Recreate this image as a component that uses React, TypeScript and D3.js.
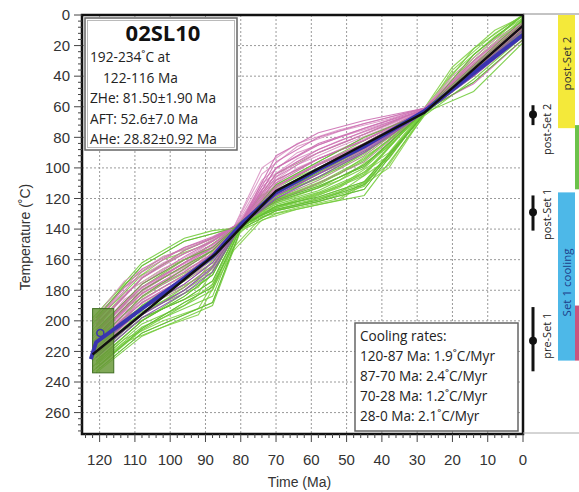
import React from "react";
import * as d3 from "d3";

const timeNodes = [121, 108, 96, 88, 80, 70, 58, 45, 28, 14, 0];
const timeNodes2 = [122, 113, 102, 92, 82, 74, 64, 52, 38, 28, 20, 8, 0];

const greenPaths = [
  [233, 208, 196, 188, 140, 128, 122, 114, 64, 38, 10],
  [229, 204, 192, 184, 138, 126, 120, 110, 63, 36, 8],
  [231, 206, 190, 176, 137, 125, 117, 104, 62, 35, 6],
  [226, 200, 184, 170, 136, 122, 113, 98, 63, 34, 5],
  [222, 196, 178, 164, 137, 121, 110, 94, 64, 36, 7],
  [218, 190, 172, 158, 136, 119, 106, 90, 63, 35, 4],
  [214, 184, 166, 154, 135, 117, 103, 87, 62, 33, 3],
  [208, 178, 160, 150, 136, 115, 100, 84, 63, 30, 2],
  [203, 172, 154, 146, 137, 113, 98, 82, 62, 28, 0],
  [198, 164, 148, 143, 138, 111, 96, 80, 64, 26, 0],
  [196, 162, 146, 141, 139, 119, 104, 88, 63, 40, 12],
  [234, 210, 198, 190, 141, 130, 124, 118, 66, 42, 14],
  [224, 198, 186, 174, 137, 127, 121, 111, 65, 37, 9],
  [212, 186, 170, 158, 135, 124, 116, 103, 62, 34, 6],
  [220, 194, 180, 168, 137, 126, 118, 105, 61, 30, 3],
  [206, 176, 160, 152, 136, 121, 112, 99, 63, 44, 16],
  [227, 200, 182, 170, 136, 120, 111, 95, 62, 22, 0],
  [217, 190, 174, 162, 138, 123, 115, 100, 64, 50, 18],
  [231, 205, 188, 178, 139, 125, 119, 109, 65, 36, 7],
  [200, 170, 156, 148, 137, 118, 107, 91, 61, 33, 4],
  [228, 202, 190, 180, 138, 128, 122, 112, 63, 32, 5],
  [210, 180, 164, 154, 136, 116, 101, 86, 62, 38, 11],
];

const greenPaths2 = [
  [230, 212, 200, 192, 152, 132, 126, 120, 98, 64, 48, 22, 10],
  [226, 206, 192, 182, 146, 130, 124, 116, 94, 63, 44, 20, 8],
  [220, 198, 184, 172, 143, 128, 121, 112, 90, 62, 42, 18, 6],
  [214, 192, 176, 164, 141, 126, 118, 108, 86, 63, 45, 22, 9],
  [206, 182, 166, 156, 140, 124, 115, 104, 82, 62, 40, 16, 4],
  [198, 176, 158, 150, 139, 122, 112, 100, 80, 61, 38, 14, 2],
  [233, 214, 204, 196, 154, 134, 127, 121, 100, 65, 50, 26, 12],
  [224, 202, 188, 178, 144, 129, 122, 113, 92, 64, 36, 12, 0],
  [210, 188, 172, 160, 140, 120, 110, 98, 80, 62, 46, 24, 14],
  [202, 178, 160, 152, 140, 118, 106, 94, 78, 61, 34, 10, 1],
];

const pinkPaths = [
  [212, 180, 162, 150, 136, 92, 77, 69, 61, 34, 7],
  [208, 176, 158, 148, 135, 104, 88, 76, 62, 35, 8],
  [216, 186, 170, 156, 137, 110, 94, 82, 62, 36, 9],
  [204, 172, 154, 146, 136, 112, 98, 86, 63, 37, 10],
  [212, 182, 166, 154, 137, 116, 102, 88, 62, 34, 8],
  [200, 168, 152, 145, 136, 106, 90, 78, 61, 32, 6],
  [216, 188, 172, 158, 138, 118, 104, 86, 63, 38, 12],
  [206, 176, 160, 150, 137, 112, 97, 84, 62, 40, 14],
  [198, 166, 152, 146, 137, 100, 85, 74, 62, 35, 9],
  [220, 192, 176, 162, 138, 114, 102, 88, 64, 36, 10],
  [210, 180, 164, 152, 136, 108, 94, 82, 62, 45, 16],
  [202, 172, 156, 148, 136, 96, 80, 71, 61, 30, 5],
  [214, 184, 168, 156, 137, 118, 104, 90, 63, 37, 11],
  [208, 178, 162, 152, 136, 100, 84, 74, 61, 33, 7],
];

const pinkPaths2 = [
  [214, 188, 172, 160, 140, 108, 90, 80, 70, 62, 44, 20, 8],
  [208, 182, 166, 154, 139, 104, 86, 76, 68, 61, 42, 18, 6],
  [218, 194, 178, 166, 141, 112, 96, 84, 72, 62, 45, 22, 10],
  [204, 178, 162, 152, 139, 116, 100, 88, 74, 63, 46, 23, 11],
  [212, 186, 170, 158, 140, 120, 104, 92, 78, 62, 43, 19, 7],
  [220, 196, 180, 168, 142, 110, 94, 82, 71, 63, 47, 25, 12],
  [200, 174, 158, 150, 139, 100, 84, 75, 67, 61, 40, 16, 5],
  [216, 190, 174, 162, 140, 114, 98, 86, 73, 62, 44, 21, 9],
];

const brownPaths = [
  [214, 188, 174, 160, 137, 120, 108, 92, 63, 36, 9],
  [210, 182, 168, 156, 136, 112, 98, 84, 62, 35, 8],
  [206, 178, 162, 152, 136, 104, 90, 78, 62, 34, 7],
  [218, 192, 178, 164, 137, 122, 110, 96, 63, 38, 11],
  [222, 196, 180, 166, 138, 108, 94, 82, 62, 36, 10],
];

const purplePaths = [
  [222, 196, 180, 165, 137, 118, 104, 89, 63, 37, 10],
  [218, 192, 176, 162, 136, 116, 100, 86, 62, 38, 12],
  [224, 198, 182, 168, 138, 120, 106, 90, 64, 40, 14],
];

const meanTimes = [122.5, 121, 115, 108, 96, 88, 80, 70, 58, 45, 28, 14, 0];
const meanTemps = [225, 214, 204, 192, 172, 158, 137, 116, 101, 86, 63, 38, 13];

const bestTimes = [122, 87, 70, 28, 0];
const bestTemps = [222, 156, 115, 64, 7];

const constraintBox = { t0: 122, t1: 116, T0: 192, T1: 234 };

const xTicks = [120, 110, 100, 90, 80, 70, 60, 50, 40, 30, 20, 10, 0];
const yTicks = [0, 20, 40, 60, 80, 100, 120, 140, 160, 180, 200, 220, 240, 260];

const infoTitle = "02SL10";
const infoLines = ["192-234˚C at", "122-116 Ma", "ZHe: 81.50±1.90 Ma", "AFT: 52.6±7.0 Ma", "AHe: 28.82±0.92 Ma"];
const coolingLines = [
  "Cooling rates:",
  "120-87 Ma: 1.9˚C/Myr",
  "87-70 Ma: 2.4˚C/Myr",
  "70-28 Ma: 1.2˚C/Myr",
  "28-0 Ma: 2.1˚C/Myr",
];

const markerNames = ["post-Set 2", "post-Set 1", "pre-Set 1"];
const markerMid = [65, 129, 213];
const markerLo = [59, 118, 191];
const markerHi = [72, 141, 233];

const barNames = ["post-Set 2", "", "Set 1 cooling", ""];
const barLo = [0, 72, 116, 190];
const barHi = [74, 114, 226, 226];
const barColors = ["#f4e93a", "#6cc24a", "#4db8e8", "#c9557e"];

export default function App() {
  const W = 579, H = 492;
  const x = d3.scaleLinear().domain([125, 0]).range([82, 523]);
  const y = d3.scaleLinear().domain([0, 274]).range([15, 434]);
  const line = d3.line<[number, number]>().x((d) => x(d[0])).y((d) => y(d[1]));
  const pts = (nodes: number[], temps: number[]) => nodes.map((t, i) => [t, temps[i]] as [number, number]);

  const left = x(125), right = x(0), top = y(0), bottom = y(274);
  const minorY = d3.range(0, 275, 4).filter((v) => v % 20 !== 0);
  const minorX = d3.range(0, 126, 2).filter((v) => v % 10 !== 0);
  const tickFont = "'Liberation Sans', Arial, sans-serif";
  const annFont = "'Open Sans', sans-serif";

  const drawGroup = (nodes: number[], paths: number[][], color: string, key: string, w = 1.1, op = 0.9) =>
    paths.map((p, i) => (
      <path key={key + i} d={line(pts(nodes, p)) || ""} fill="none" stroke={color} strokeWidth={w} opacity={op} />
    ));

  return (
    <svg width={W} height={H} style={{ position: "absolute", left: 0, top: 0, background: "#fff" }}>
      {xTicks.map((t) => (
        <line key={"gx" + t} x1={x(t)} x2={x(t)} y1={top} y2={bottom} stroke="#9a9a9a" strokeWidth={1} strokeDasharray="2,2" />
      ))}
      {yTicks.map((t) => (
        <line key={"gy" + t} x1={left} x2={right} y1={y(t)} y2={y(t)} stroke="#9a9a9a" strokeWidth={1} strokeDasharray="2,2" />
      ))}

      {drawGroup(timeNodes2, greenPaths2, "#86d24c", "g2")}
      {drawGroup(timeNodes, greenPaths, "#74cc3e", "g1")}
      {drawGroup(timeNodes, brownPaths, "#a48c7c", "b")}
      {drawGroup(timeNodes2, pinkPaths2, "#dc98c6", "p2")}
      {drawGroup(timeNodes, pinkPaths, "#cc70b2", "p1")}
      {drawGroup(timeNodes, greenPaths.filter((_, i) => i % 3 === 0), "#5fb832", "g3", 1, 0.8)}
      {drawGroup(timeNodes, purplePaths, "#8a4fb0", "u")}

      <rect
        x={x(constraintBox.t0)}
        y={y(constraintBox.T0)}
        width={x(constraintBox.t1) - x(constraintBox.t0)}
        height={y(constraintBox.T1) - y(constraintBox.T0)}
        fill="#6a9a3a"
        fillOpacity={0.85}
        stroke="#3f6e22"
        strokeWidth={1}
      />

      <path d={line(pts(meanTimes, meanTemps)) || ""} fill="none" stroke="#3a34b0" strokeWidth={4} strokeLinejoin="round" />
      <path d={line(pts(bestTimes, bestTemps)) || ""} fill="none" stroke="#111" strokeWidth={2.4} />
      <circle cx={x(119.8)} cy={y(208)} r={3.5} fill="none" stroke="#3a34b0" strokeWidth={1.5} />

      <rect x={left} y={top} width={right - left} height={bottom - top} fill="none" stroke="#111" strokeWidth={2.5} />
      <line x1={right} x2={W} y1={top - 1} y2={top - 1} stroke="#888" strokeWidth={1} />
      <line x1={right} x2={W} y1={bottom - 1} y2={bottom - 1} stroke="#aaa" strokeWidth={1} />

      {minorY.map((t) => (
        <line key={"my" + t} x1={left - 4} x2={left} y1={y(t)} y2={y(t)} stroke="#444" strokeWidth={1} />
      ))}
      {yTicks.map((t) => (
        <g key={"yt" + t}>
          <line x1={left - 8} x2={left} y1={y(t)} y2={y(t)} stroke="#444" strokeWidth={1} />
          <text x={left - 12} y={y(t)} dy="0.35em" textAnchor="end" fontFamily={tickFont} fontSize={15} fill="#333">
            {t}
          </text>
        </g>
      ))}
      {minorX.map((t) => (
        <line key={"mx" + t} x1={x(t)} x2={x(t)} y1={bottom} y2={bottom + 4} stroke="#444" strokeWidth={1} />
      ))}
      {xTicks.map((t) => (
        <g key={"xt" + t}>
          <line x1={x(t)} x2={x(t)} y1={bottom} y2={bottom + 8} stroke="#444" strokeWidth={1} />
          <text x={x(t)} y={bottom + 31} textAnchor="middle" fontFamily={tickFont} fontSize={15} fill="#333">
            {t}
          </text>
        </g>
      ))}
      <text x={(left + right) / 2 - 3} y={487} textAnchor="middle" fontFamily={tickFont} fontSize={14} fill="#333">
        Time (Ma)
      </text>
      <text transform={`translate(30,237) rotate(-90)`} textAnchor="middle" fontFamily={tickFont} fontSize={14} fill="#333">
        Temperature (˚C)
      </text>

      <rect x={85} y={18} width={152} height={132} fill="#fff" stroke="#666" strokeWidth={1.5} />
      <rect x={87.5} y={20.5} width={147} height={127} fill="none" stroke="#aaa" strokeWidth={0.8} />
      <text x={163} y={41} textAnchor="middle" fontFamily={annFont} fontWeight={700} fontSize={22} fill="#111">
        {infoTitle}
      </text>
      {infoLines.map((s, i) => (
        <text key={"il" + i} x={i === 1 ? 103 : 90} y={62 + i * 20.5} fontFamily={annFont} fontSize={13.7} fill="#222">
          {s}
        </text>
      ))}

      <rect x={355} y={323} width={163} height={108} fill="#fff" stroke="#666" strokeWidth={1.5} />
      {coolingLines.map((s, i) => (
        <text key={"cl" + i} x={360} y={341 + i * 20} fontFamily={annFont} fontSize={13.6} fill="#222">
          {s}
        </text>
      ))}

      {barNames.map((n, i) => {
        const bx = i === 1 || i === 3 ? 575 : 558;
        const bw = i === 1 || i === 3 ? 6 : 17;
        return (
          <g key={"bar" + i}>
            <rect x={bx} y={y(barLo[i])} width={bw} height={y(barHi[i]) - y(barLo[i])} fill={barColors[i]} />
            {n && (
              <text
                transform={`translate(${bx + bw / 2 + 4},${(y(barLo[i]) + y(barHi[i])) / 2 + (i === 0 ? -8 : 6)}) rotate(-90)`}
                textAnchor="middle"
                fontFamily={annFont}
                fontSize={11.5}
                fill={i === 2 ? "#1d3f8a" : "#333"}
              >
                {n}
              </text>
            )}
          </g>
        );
      })}

      {markerNames.map((n, i) => (
        <g key={"mk" + i}>
          <line x1={533} x2={533} y1={y(markerLo[i])} y2={y(markerHi[i])} stroke="#111" strokeWidth={3} />
          <circle cx={533} cy={y(markerMid[i])} r={4} fill="#111" />
          <text
            transform={`translate(${551},${y(markerMid[i]) + (i === 0 ? 15 : i === 2 ? -5 : 2)}) rotate(-90)`}
            textAnchor="middle"
            fontFamily={annFont}
            fontSize={11}
            fill="#222"
          >
            {n}
          </text>
        </g>
      ))}
    </svg>
  );
}
